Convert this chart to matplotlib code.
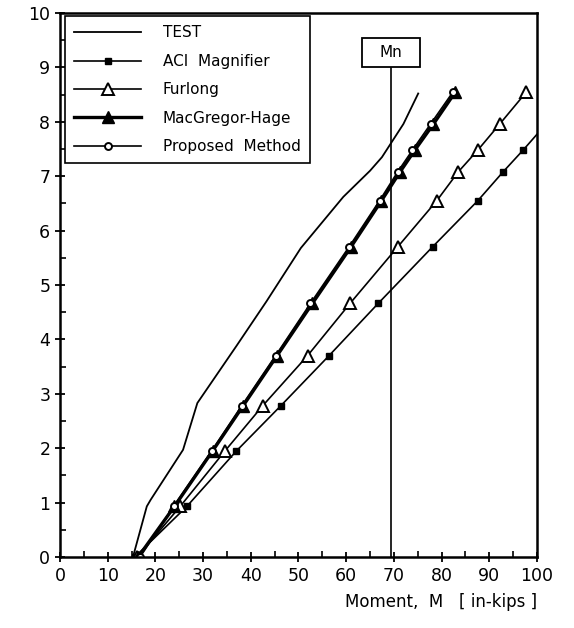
import matplotlib
matplotlib.use("Agg")
import matplotlib.pyplot as plt
from matplotlib.ticker import MultipleLocator
from matplotlib.patches import Rectangle

# Load levels shared by all predicted series
load_levels = [0.0, 0.93, 1.95, 2.78, 3.70, 4.66, 5.70, 6.55, 7.08, 7.48, 7.96, 8.55]

test_M = [15.3, 18.2, 19.0, 25.8, 28.8, 37.0, 43.3, 50.5, 59.4, 65.0, 67.5, 72.0, 75.1]
test_P = [0.0, 0.93, 1.05, 1.97, 2.83, 3.88, 4.70, 5.68, 6.62, 7.10, 7.35, 7.96, 8.52]

aci_M = [15.7, 26.6, 37.0, 46.3, 56.4, 66.7, 78.1, 87.6, 92.9, 97.1, 101.9, 108.0]
furlong_M = [16.2, 25.2, 34.6, 42.5, 51.9, 60.8, 70.8, 79.0, 83.5, 87.6, 92.2, 97.8]
macgregor_M = [16.4, 24.0, 32.0, 38.4, 45.5, 52.9, 61.0, 67.4, 71.3, 74.4, 78.3, 82.9]
proposed_M = [16.8, 23.8, 31.8, 38.1, 45.2, 52.5, 60.6, 67.0, 70.8, 73.9, 77.7, 82.4]

Mn = 69.4
Mn_label = "Mn"

x_ticks = [0, 10, 20, 30, 40, 50, 60, 70, 80, 90, 100]
y_ticks = [0, 1, 2, 3, 4, 5, 6, 7, 8, 9, 10]

plt.rcParams['font.family'] = ['DejaVu Sans']

fig = plt.figure(figsize=(5.74, 6.28), dpi=100)
ax = fig.add_axes([0.1045, 0.1131, 0.831, 0.8662])

ax.plot(test_M, test_P, color='black', lw=1.3, label='TEST')
ax.plot(aci_M, load_levels, color='black', lw=1.2, marker='s', ms=5,
        mfc='black', mec='black', label='ACI  Magnifier')
ax.plot(furlong_M, load_levels, color='black', lw=1.2, marker='^', ms=8,
        mfc='white', mec='black', mew=1.4, label='Furlong')
ax.plot(macgregor_M, load_levels, color='black', lw=2.4, marker='^', ms=8,
        mfc='black', mec='black', label='MacGregor-Hage')
ax.plot(proposed_M, load_levels, color='black', lw=1.2, marker='o', ms=5,
        mfc='white', mec='black', mew=1.4, label='Proposed  Method')

# Mn vertical line with boxed label
ax.plot([Mn, Mn], [0, 9.0], color='black', lw=1.2)
ax.add_patch(Rectangle((Mn - 6.0, 9.0), 12.0, 0.54, fc='white', ec='black', lw=1.3, zorder=4))
ax.text(Mn, 9.27, Mn_label, ha='center', va='center', fontsize=11, zorder=5)

ax.set_xlim(0, 100)
ax.set_ylim(0, 10)
ax.set_xticks(x_ticks)
ax.set_yticks(y_ticks)
ax.xaxis.set_minor_locator(MultipleLocator(5))
ax.yaxis.set_minor_locator(MultipleLocator(0.5))
ax.tick_params(which='major', direction='inout', length=7, width=1.3, labelsize=12.5)
ax.tick_params(which='minor', direction='in', length=4, width=1.2)
for s in ax.spines.values():
    s.set_linewidth(1.8)

ax.set_xlabel('Moment,  M   [ in-kips ]', fontsize=12, loc='right', labelpad=6)

leg = ax.legend(loc='upper left', bbox_to_anchor=(0.01, 0.994), fontsize=11,
                handlelength=4.4, handletextpad=1.4, labelspacing=0.88,
                borderpad=0.6, fancybox=False, framealpha=1, edgecolor='black',
                borderaxespad=0)
leg.get_frame().set_linewidth(1.2)

fig.savefig('out.png', dpi=100)
